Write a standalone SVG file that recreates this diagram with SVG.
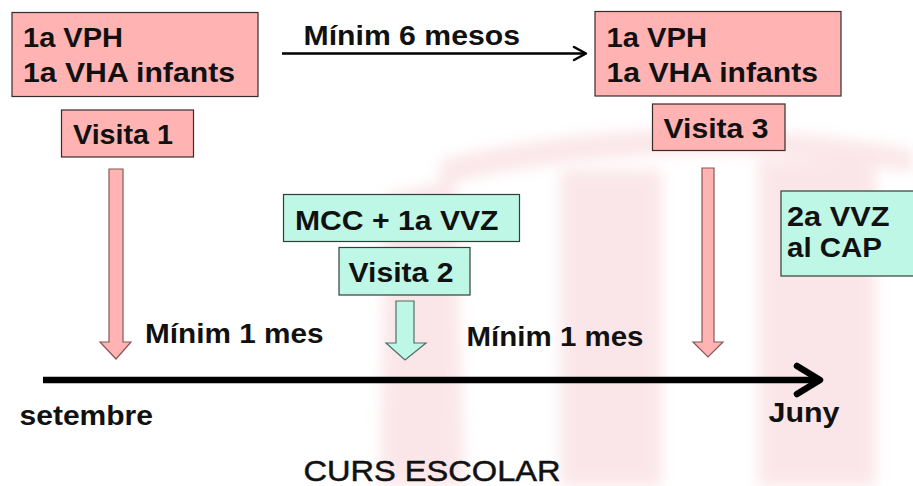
<svg xmlns="http://www.w3.org/2000/svg" width="913" height="486" viewBox="0 0 913 486">
<defs>
<style>
.t{font-family:"Liberation Sans",Arial,sans-serif;font-weight:bold;font-size:27.5px;fill:#111}
.pk{fill:#ffb3b3;stroke:#3a2a2a;stroke-width:1.2}
.gr{fill:#bff7e6;stroke:#2f3f3a;stroke-width:1.2}
.pa{fill:#ffb3b3;stroke:#8a5555;stroke-width:1.2}
.ga{fill:#bff7e6;stroke:#4f6f66;stroke-width:1.2}
.wm{fill:#f7cfd4}
</style>
<filter id="blur" x="-20%" y="-20%" width="140%" height="140%"><feGaussianBlur stdDeviation="7"/></filter>
</defs>
<rect width="913" height="486" fill="#ffffff"/>
<g id="watermark" filter="url(#blur)" opacity="0.5">
<path class="wm" d="M440 160 Q670 105 913 150 L913 172 Q670 130 440 185 Z"/>
<path class="wm" d="M385 195 L455 180 L465 486 L380 486 Z"/>
<rect class="wm" x="560" y="170" width="102" height="316"/>
<rect class="wm" x="758" y="160" width="118" height="326"/>
</g>
<g id="connectors">
<line x1="282" y1="53.5" x2="584" y2="53.5" stroke="#000" stroke-width="2.5"/>
<polyline points="574,47 586,53.5 574,60" fill="none" stroke="#000" stroke-width="2.5" stroke-linecap="round" stroke-linejoin="round"/>
<line x1="43" y1="380" x2="818" y2="380" stroke="#000" stroke-width="6.5"/>
<polyline points="797,366 820,380 797,394" fill="none" stroke="#000" stroke-width="6.5" stroke-linecap="round" stroke-linejoin="round"/>
<path class="pa" d="M109,169 H123 V342 H131 L116,359 L100,342 H109 Z"/>
<path class="pa" d="M702,168 H714 V342 H723 L708,357 L693,342 H702 Z"/>
<path class="ga" d="M396,301 H414 V343 H426 L405,360 L386,343 H396 Z"/>
</g>
<g id="box-left">
<rect class="pk" x="12" y="12.5" width="246" height="84"/>
<text class="t" x="23" y="47" textLength="100" lengthAdjust="spacingAndGlyphs">1a VPH</text>
<text class="t" x="23" y="82" textLength="212" lengthAdjust="spacingAndGlyphs">1a VHA infants</text>
</g>
<g id="visita1">
<rect class="pk" x="61.5" y="110" width="132" height="47"/>
<text class="t" x="73" y="144" textLength="100" lengthAdjust="spacingAndGlyphs">Visita 1</text>
</g>
<g id="box-right">
<rect class="pk" x="595" y="11.5" width="246" height="84.5"/>
<text class="t" x="606.5" y="46.5" textLength="100.5" lengthAdjust="spacingAndGlyphs">1a VPH</text>
<text class="t" x="606.5" y="81.5" textLength="211.5" lengthAdjust="spacingAndGlyphs">1a VHA infants</text>
</g>
<g id="visita3">
<rect class="pk" x="652.5" y="104" width="132.5" height="46.5"/>
<text class="t" x="663.5" y="137.5" textLength="105" lengthAdjust="spacingAndGlyphs">Visita 3</text>
</g>
<g id="label-6mesos">
<text class="t" x="303.5" y="45" textLength="216.5" lengthAdjust="spacingAndGlyphs">Mínim 6 mesos</text>
</g>
<g id="box-mcc">
<rect class="gr" x="283.5" y="194.5" width="236" height="47"/>
<text class="t" x="295" y="230" textLength="203.5" lengthAdjust="spacingAndGlyphs">MCC + 1a VVZ</text>
</g>
<g id="visita2">
<rect class="gr" x="339" y="247.5" width="131" height="47.5"/>
<text class="t" x="348.5" y="281.5" textLength="105" lengthAdjust="spacingAndGlyphs">Visita 2</text>
</g>
<g id="box-vvz2">
<rect class="gr" x="781" y="191" width="140" height="85"/>
<text class="t" x="787" y="226" textLength="102.5" lengthAdjust="spacingAndGlyphs">2a VVZ</text>
<text class="t" x="787" y="257" textLength="95" lengthAdjust="spacingAndGlyphs">al CAP</text>
</g>
<g id="labels">
<text class="t" x="145" y="343" textLength="178.5" lengthAdjust="spacingAndGlyphs">Mínim 1 mes</text>
<text class="t" x="466.5" y="346" textLength="177" lengthAdjust="spacingAndGlyphs">Mínim 1 mes</text>
<text class="t" x="19.5" y="425" textLength="133.5" lengthAdjust="spacingAndGlyphs">setembre</text>
<text class="t" x="768.5" y="421.5" textLength="71" lengthAdjust="spacingAndGlyphs">Juny</text>
<text x="303.5" y="481" font-family="'Liberation Sans',Arial,sans-serif" font-size="30" fill="#111" stroke="#111" stroke-width="0.5" textLength="257" lengthAdjust="spacingAndGlyphs">CURS ESCOLAR</text>
</g>
</svg>
